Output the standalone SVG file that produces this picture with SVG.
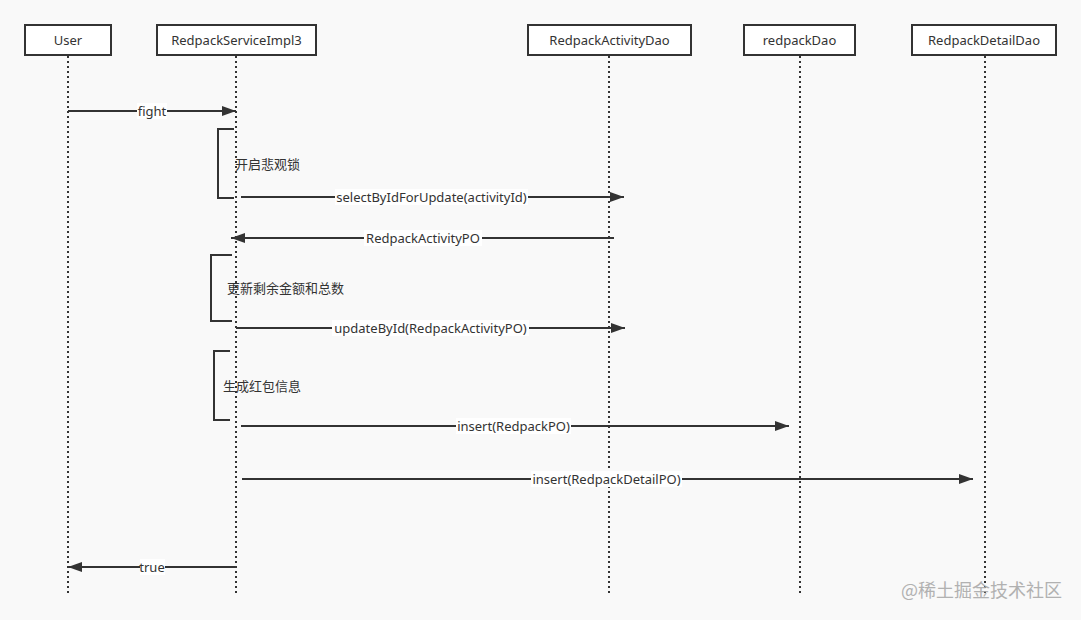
<svg xmlns="http://www.w3.org/2000/svg" width="1081" height="620" viewBox="0 0 1081 620">
<style>
.box{fill:#fff;stroke:#333;stroke-width:2}
.t{font-family:"Noto Sans","Noto Sans CJK SC",sans-serif;font-size:13px;fill:#333}
.life{stroke:#333;stroke-width:2;stroke-dasharray:2 3;fill:none}
.msg{stroke:#333;stroke-width:2;fill:none}
.lb{fill:#fff}
.br{stroke:#333;stroke-width:2;fill:none}
</style>
<defs>
<marker id="ah" markerWidth="14" markerHeight="10" refX="14" refY="5" orient="auto" markerUnits="userSpaceOnUse">
<path d="M0,0 L14,5 L0,10 z" fill="#333"/>
</marker>
</defs>
<rect width="1081" height="620" fill="#f9f9f9"/>
<g id="lifelines">
<line class="life" x1="68" y1="56" x2="68" y2="595"/>
<line class="life" x1="236" y1="56" x2="236" y2="595"/>
<line class="life" x1="609" y1="56" x2="609" y2="595"/>
<line class="life" x1="800" y1="56" x2="800" y2="595"/>
<line class="life" x1="985" y1="56" x2="985" y2="595"/>
</g>
<g id="n-user"><rect class="box" x="25" y="25" width="86" height="30"/><text class="t" x="68" y="45" text-anchor="middle">User</text></g>
<g id="n-service"><rect class="box" x="157" y="25" width="159" height="30"/><text class="t" x="236.5" y="45" text-anchor="middle">RedpackServiceImpl3</text></g>
<g id="n-activitydao"><rect class="box" x="528" y="25" width="163" height="30"/><text class="t" x="609.5" y="45" text-anchor="middle">RedpackActivityDao</text></g>
<g id="n-redpackdao"><rect class="box" x="744" y="25" width="111" height="30"/><text class="t" x="799.5" y="45" text-anchor="middle">redpackDao</text></g>
<g id="n-detaildao"><rect class="box" x="912" y="25" width="144" height="30"/><text class="t" x="984" y="45" text-anchor="middle">RedpackDetailDao</text></g>
<g id="connectors">
<line class="msg" x1="68" y1="111" x2="236" y2="111" marker-end="url(#ah)"/>
<rect class="lb" x="137" y="103" width="30" height="16"/>
<text class="t" x="152" y="116" text-anchor="middle">fight</text>

<path class="br" d="M234,129 H218 V198 H234"/>
<text class="t" x="235" y="169">开启悲观锁</text>

<line class="msg" x1="241" y1="197" x2="624" y2="197" marker-end="url(#ah)"/>
<rect class="lb" x="335" y="189" width="193" height="16"/>
<text class="t" x="431.5" y="202" text-anchor="middle">selectByIdForUpdate(activityId)</text>

<line class="msg" x1="614" y1="238" x2="231" y2="238" marker-end="url(#ah)"/>
<rect class="lb" x="364" y="230" width="118" height="16"/>
<text class="t" x="423" y="243" text-anchor="middle">RedpackActivityPO</text>

<path class="br" d="M232,255 H211 V321 H232"/>
<text class="t" x="227" y="293">更新剩余金额和总数</text>

<line class="msg" x1="236" y1="328" x2="625" y2="328" marker-end="url(#ah)"/>
<rect class="lb" x="332" y="320" width="197" height="16"/>
<text class="t" x="430.5" y="333" text-anchor="middle">updateById(RedpackActivityPO)</text>

<path class="br" d="M230,351 H214 V420 H230"/>
<text class="t" x="223" y="391">生成红包信息</text>

<line class="msg" x1="241" y1="426" x2="789" y2="426" marker-end="url(#ah)"/>
<rect class="lb" x="456" y="418" width="115" height="16"/>
<text class="t" x="513.5" y="431" text-anchor="middle">insert(RedpackPO)</text>

<line class="msg" x1="242" y1="479" x2="973" y2="479" marker-end="url(#ah)"/>
<rect class="lb" x="531" y="471" width="151" height="16"/>
<text class="t" x="606.5" y="484" text-anchor="middle">insert(RedpackDetailPO)</text>

<line class="msg" x1="236" y1="567" x2="68" y2="567" marker-end="url(#ah)"/>
<rect class="lb" x="140" y="559" width="25" height="16"/>
<text class="t" x="152" y="572" text-anchor="middle">true</text>
</g>
<text x="1062" y="597" text-anchor="end" font-family="Noto Sans CJK SC,sans-serif" font-size="18" fill="#aaa" opacity="0.9">@稀土掘金技术社区</text>
</svg>
